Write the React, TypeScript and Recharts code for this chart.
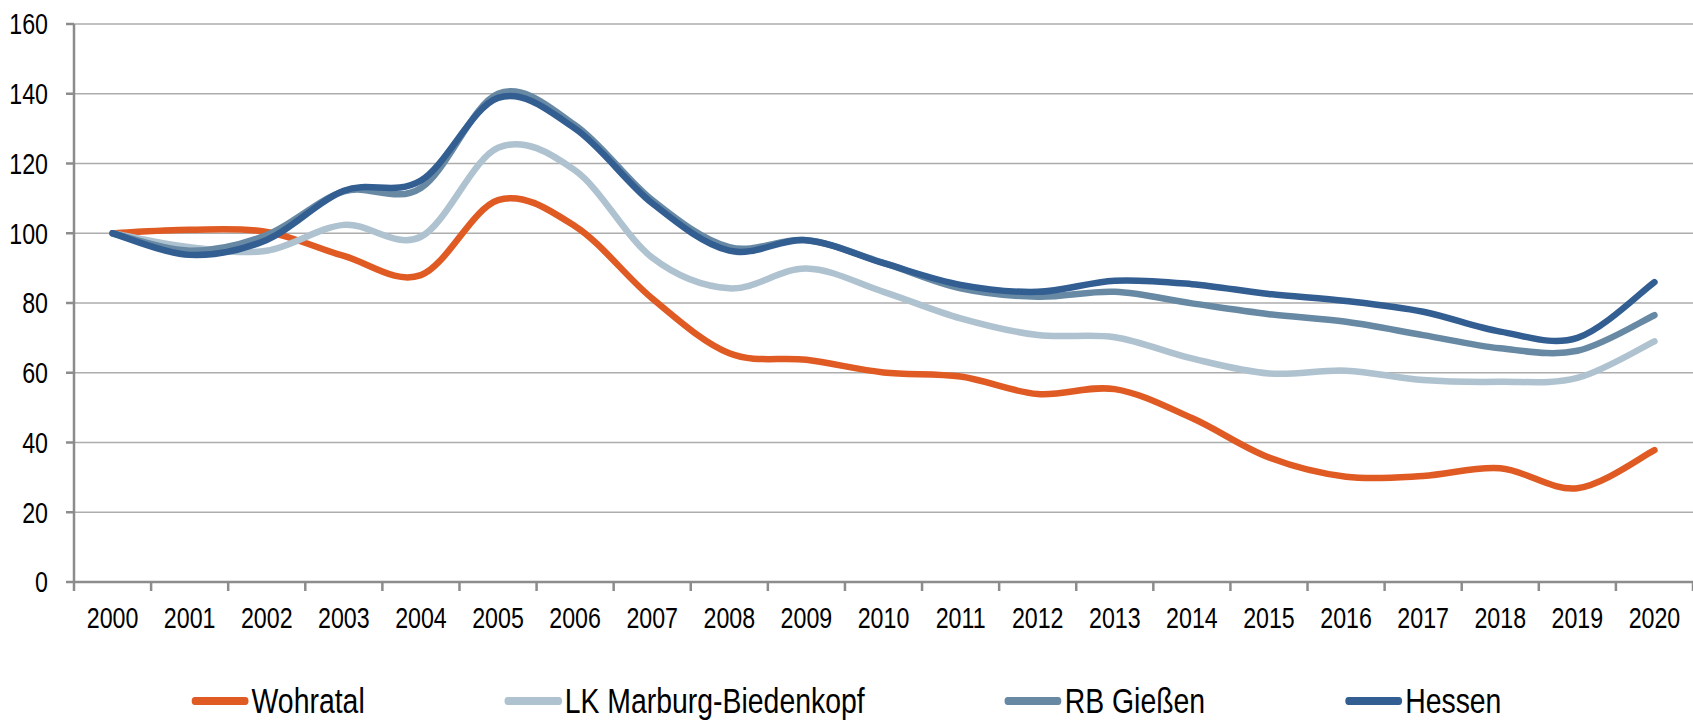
import React from "react"
import { LineChart, Line, XAxis, YAxis, CartesianGrid, Legend } from "recharts"

const years = [
  "2000", "2001", "2002", "2003", "2004", "2005", "2006", "2007", "2008", "2009", "2010",
  "2011", "2012", "2013", "2014", "2015", "2016", "2017", "2018", "2019", "2020",
]
const wohratal = [100, 101, 100.4, 93.5, 88, 109.5, 102, 81.3, 65.6, 63.7, 60.1, 58.9, 53.9, 55.3, 47, 35.7, 30.2, 30.4, 32.6, 26.9, 37.8]
const marburg = [100, 96, 95, 102.4, 99, 124.5, 118, 93, 84.2, 89.9, 83.2, 75.6, 70.8, 70.2, 64.1, 59.8, 60.6, 57.9, 57.4, 58.5, 69]
const giessen = [100, 95, 99.5, 112, 113, 140, 131, 109.5, 96, 98, 91.5, 84.2, 81.8, 83.2, 79.9, 76.8, 74.6, 70.8, 67, 66.3, 76.5]
const hessen = [100, 93.8, 98.1, 112.2, 115.1, 138.8, 130, 108.6, 95, 98, 91.4, 85.2, 83.2, 86.4, 85.4, 82.6, 80.6, 77.5, 71.8, 70, 86]
const yTicks = [0, 20, 40, 60, 80, 100, 120, 140, 160]

const series = [
  { key: "wohratal", name: "Wohratal", color: "#e05a23" },
  { key: "marburg", name: "LK Marburg-Biedenkopf", color: "#afc2d0" },
  { key: "giessen", name: "RB Gießen", color: "#6889a4" },
  { key: "hessen", name: "Hessen", color: "#335e92" },
]

const data = years.map((year, i) => ({
  year,
  wohratal: wohratal[i],
  marburg: marburg[i],
  giessen: giessen[i],
  hessen: hessen[i],
}))

// no narrow font installed, so Arial metrics squeezed to Arial Narrow width
const FONT = "'Liberation Sans', Arial, sans-serif"
const NARROW = 0.8
const AXIS = "#8c8c8c"
const TICK_SIZE = 9
const TICK_MARGIN = 17

// Excel-style smoothing (Catmull-Rom through every point)
function excelSmooth(context: any) {
  let pts: [number, number][] = []
  return {
    areaStart() {},
    areaEnd() {},
    lineStart() {
      pts = []
    },
    lineEnd() {
      const n = pts.length
      if (!n) return
      context.moveTo(pts[0][0], pts[0][1])
      for (let i = 0; i < n - 1; i++) {
        const p0 = pts[Math.max(i - 1, 0)]
        const p1 = pts[i]
        const p2 = pts[i + 1]
        const p3 = pts[Math.min(i + 2, n - 1)]
        context.bezierCurveTo(
          p1[0] + (p2[0] - p0[0]) / 6,
          p1[1] + (p2[1] - p0[1]) / 6,
          p2[0] - (p3[0] - p1[0]) / 6,
          p2[1] - (p3[1] - p1[1]) / 6,
          p2[0],
          p2[1]
        )
      }
    },
    point(x: number, y: number) {
      pts.push([+x, +y])
    },
  }
}

// year label plus tick marks on the category boundaries
function YearTick(props: any) {
  const { x, y, payload, index, visibleTicksCount } = props
  const half = payload.offset || 0
  const axisY = y - TICK_SIZE - TICK_MARGIN
  return (
    <g>
      <line x1={x - half} x2={x - half} y1={axisY} y2={axisY + TICK_SIZE} stroke={AXIS} strokeWidth={2.5} />
      {index === visibleTicksCount - 1 && (
        <line x1={x + half} x2={x + half} y1={axisY} y2={axisY + TICK_SIZE} stroke={AXIS} strokeWidth={2.5} />
      )}
      <text
        transform={`translate(${x} ${y}) scale(${NARROW} 1)`}
        dy="0.68em"
        textAnchor="middle"
        fill="#000"
        fontSize={29}
        fontFamily={FONT}
      >
        {payload.value}
      </text>
    </g>
  )
}

function ValueTick(props: any) {
  const { x, y, payload } = props
  return (
    <text
      transform={`translate(${x} ${y}) scale(${NARROW} 1)`}
      dy="0.355em"
      textAnchor="end"
      fill="#000"
      fontSize={29}
      fontFamily={FONT}
    >
      {payload.value}
    </text>
  )
}

function ChartLegend() {
  return (
    <div
      style={{
        height: 70,
        paddingTop: 32,
        boxSizing: "border-box",
        display: "flex",
        justifyContent: "center",
        alignItems: "center",
        gap: 140 / NARROW,
        fontFamily: FONT,
        fontSize: 35.5,
        color: "#000",
        transform: `scaleX(${NARROW})`,
        transformOrigin: "50% 50%",
        whiteSpace: "nowrap",
      }}
    >
      {series.map((s) => (
        <span key={s.key} style={{ display: "flex", alignItems: "center", gap: 3 / NARROW }}>
          <span style={{ width: 57 / NARROW, height: 8, borderRadius: 4, background: s.color }} />
          {s.name}
        </span>
      ))}
    </div>
  )
}

export default function App() {
  return (
    <div style={{ width: 1693, height: 720, background: "#fff" }}>
      <style>{"body{margin:0}"}</style>
      <LineChart width={1693} height={720} data={data} margin={{ top: 24, right: 0, left: 0, bottom: 0 }}>
        <CartesianGrid vertical={false} stroke="#adadad" strokeWidth={1.5} />
        <XAxis
          dataKey="year"
          scale="band"
          interval={0}
          height={68}
          tickLine={false}
          tickSize={TICK_SIZE}
          tickMargin={TICK_MARGIN}
          axisLine={{ stroke: AXIS, strokeWidth: 2.5 }}
          tick={<YearTick />}
        />
        <YAxis
          width={74}
          domain={[0, 160]}
          ticks={yTicks}
          interval={0}
          tickSize={8}
          tickMargin={18}
          axisLine={{ stroke: AXIS, strokeWidth: 2.5 }}
          tickLine={{ stroke: AXIS, strokeWidth: 2.5 }}
          tick={<ValueTick />}
        />
        <Legend verticalAlign="bottom" content={<ChartLegend />} />
        {series.map((s) => (
          <Line
            key={s.key}
            dataKey={s.key}
            name={s.name}
            type={excelSmooth as any}
            stroke={s.color}
            strokeWidth={6.5}
            strokeLinecap="round"
            dot={false}
            activeDot={false}
            isAnimationActive={false}
          />
        ))}
      </LineChart>
    </div>
  )
}
